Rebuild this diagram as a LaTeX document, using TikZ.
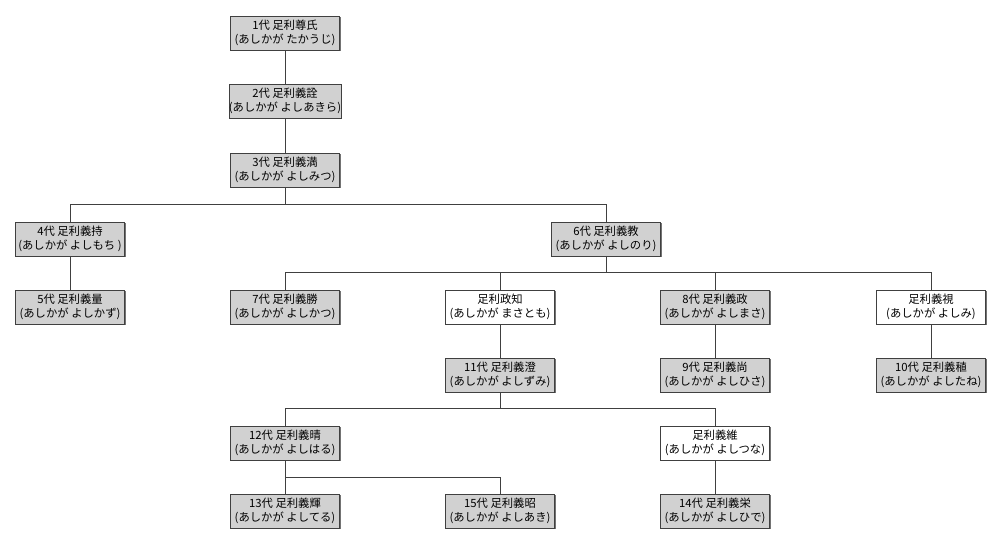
\documentclass[tikz,border=0pt]{standalone}
\usepackage{fontspec}
\setmainfont{Noto Sans CJK JP}
\usetikzlibrary{shadows}
\begin{document}
\begin{tikzpicture}[x=0.75pt,y=-0.75pt,
  person/.style={draw=black!75, line width=0.6pt, fill=black!18, minimum width=82pt, minimum height=25.5pt,
     inner sep=0pt, align=center, font=\fontsize{8.5}{10.5}\selectfont,
     drop shadow={shadow xshift=0.8pt, shadow yshift=-0.8pt, fill=black!55, opacity=1}},
  other/.style={person, fill=white},
  link/.style={draw=black!75, line width=0.6pt}]
\useasboundingbox (0,0) rectangle (1000,546);
\node[person] (n1) at (285,33) {1代 足利尊氏\\(あしかが たかうじ)};
\node[person] (n2) at (285,101) {2代 足利義詮\\(あしかが よしあきら)};
\node[person] (n3) at (285,170) {3代 足利義満\\(あしかが よしみつ)};
\node[person] (n4) at (70,239) {4代 足利義持\\(あしかが よしもち )};
\node[person] (n5) at (70,307) {5代 足利義量\\(あしかが よしかず)};
\node[person] (n6) at (606,239) {6代 足利義教\\(あしかが よしのり)};
\node[person] (n7) at (285,307) {7代 足利義勝\\(あしかが よしかつ)};
\node[other] (ma) at (500,307) {足利政知\\(あしかが まさとも)};
\node[person] (n8) at (715,307) {8代 足利義政\\(あしかが よしまさ)};
\node[other] (mi) at (931,307) {足利義視\\(あしかが よしみ)};
\node[person] (n11) at (500,375) {11代 足利義澄\\(あしかが よしずみ)};
\node[person] (n9) at (715,375) {9代 足利義尚\\(あしかが よしひさ)};
\node[person] (n10) at (931,375) {10代 足利義稙\\(あしかが よしたね)};
\node[person] (n12) at (285,443) {12代 足利義晴\\(あしかが よしはる)};
\node[other] (tu) at (715,443) {足利義維\\(あしかが よしつな)};
\node[person] (n13) at (285,511) {13代 足利義輝\\(あしかが よしてる)};
\node[person] (n15) at (500,511) {15代 足利義昭\\(あしかが よしあき)};
\node[person] (n14) at (715,511) {14代 足利義栄\\(あしかが よしひで)};
\coordinate (b3) at (285,204);
\coordinate (b6) at (606,272);
\coordinate (b11) at (500,408);
\coordinate (b12) at (285,477);
\path[link] (n1.south) -- (n2.north);
\path[link] (n2.south) -- (n3.north);
\path[link] (n3.south) -- (b3) -| (n4.north);
\path[link] (b3) -| (n6.north);
\path[link] (n4.south) -- (n5.north);
\path[link] (n6.south) -- (b6) -| (n7.north);
\path[link] (b6) -| (ma.north);
\path[link] (b6) -| (n8.north);
\path[link] (b6) -| (mi.north);
\path[link] (ma.south) -- (n11.north);
\path[link] (n8.south) -- (n9.north);
\path[link] (mi.south) -- (n10.north);
\path[link] (n11.south) -- (b11) -| (n12.north);
\path[link] (b11) -| (tu.north);
\path[link] (n12.south) -- (n13.north);
\path[link] (b12) -| (n15.north);
\path[link] (tu.south) -- (n14.north);
\end{tikzpicture}
\end{document}
